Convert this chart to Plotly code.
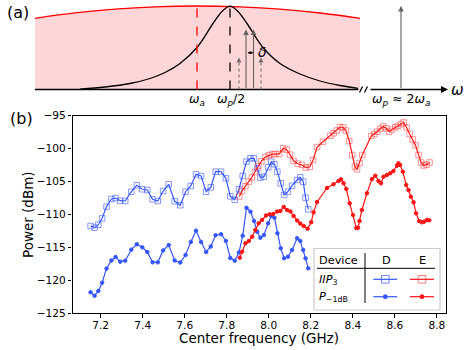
import plotly.graph_objects as go

# ---- panel (b) data ----
freq_d = [7.152, 7.171, 7.189, 7.207, 7.228, 7.251, 7.271, 7.293, 7.317, 7.346,
          7.372, 7.398, 7.422, 7.447, 7.472, 7.497, 7.524, 7.552, 7.579, 7.604,
          7.629, 7.654, 7.678, 7.702, 7.724, 7.747, 7.773, 7.796, 7.817, 7.838,
          7.858, 7.876, 7.894, 7.913, 7.930, 7.945, 7.960, 7.977, 7.997, 8.012,
          8.027, 8.041, 8.057, 8.073, 8.091, 8.111, 8.135, 8.150, 8.164, 8.175, 8.188]
iip3_d = [-111.75, -112.0, -111.55, -110.58, -108.8, -107.65, -107.5, -107.9, -107.95, -106.54,
          -105.57, -106.17, -106.28, -107.69, -107.95, -106.43, -105.41, -108.0, -108.6, -106.54,
          -105.67, -103.9, -104.15, -106.54, -105.87, -103.5, -103.5, -104.5, -107.24, -107.75,
          -106.17, -104.15, -101.98, -101.47, -101.47, -102.99, -104.41, -104.26, -102.83, -101.98,
          -102.38, -103.5, -105.26, -107.04, -106.54, -105.63, -104.76, -104.35, -105.02, -107.45, -109.21]
p1db_d = [-121.81, -122.33, -121.61, -120.35, -118.2, -116.98, -116.45, -117.16, -117.01, -115.34,
          -114.51, -114.98, -115.69, -117.26, -117.26, -115.46, -114.63, -116.98, -117.29, -116.15,
          -114.17, -112.46, -114.17, -115.69, -114.86, -113.14, -113.0, -114.02, -116.6, -117.01,
          -115.77, -113.22, -108.97, -109.57, -110.99, -112.61, -113.52, -113.11, -111.34, -110.23,
          -110.49, -112.85, -115.13, -116.65, -116.41, -115.39, -113.61, -114.02, -115.39, -116.65, -118.17]

freq_e_iip3 = [7.860, 7.873, 7.889, 7.905, 7.919, 7.934, 7.950, 7.965, 7.984, 8.000,
               8.016, 8.031, 8.050, 8.069, 8.085, 8.101, 8.118, 8.138, 8.158, 8.176,
               8.195, 8.211, 8.230, 8.258, 8.293, 8.308, 8.324, 8.339, 8.354, 8.367,
               8.383, 8.397, 8.410, 8.420, 8.432, 8.445, 8.488, 8.502, 8.516, 8.530,
               8.545, 8.559, 8.573, 8.587, 8.602, 8.616, 8.630, 8.642, 8.656, 8.670,
               8.685, 8.699, 8.713, 8.725, 8.737, 8.751, 8.765]
iip3_e = [-107.27, -106.43, -105.70, -105.02, -104.38, -103.55, -102.64, -101.91, -101.27, -101.01,
          -100.84, -100.84, -100.81, -99.95, -100.16, -100.92, -101.85, -102.29, -102.48, -102.86,
          -102.79, -101.73, -99.75, -98.95, -98.04, -97.67, -97.25, -96.72, -96.79, -97.25,
          -98.84, -100.97, -102.74, -103.14, -102.18, -100.97, -98.08, -97.78, -97.43, -96.97,
          -96.64, -96.91, -97.43, -97.10, -96.76, -96.56, -96.26, -96.03, -96.79, -97.78,
          -98.61, -99.52, -100.97, -102.10, -102.56, -102.44, -102.10]

freq_e_p1db = [7.862, 7.873, 7.889, 7.905, 7.921, 7.936, 7.952, 7.968, 7.987, 8.004,
               8.021, 8.040, 8.055, 8.071, 8.087, 8.103, 8.118, 8.135, 8.150, 8.166,
               8.185, 8.202, 8.213, 8.230, 8.277, 8.308, 8.332, 8.344, 8.356, 8.369,
               8.385, 8.401, 8.417, 8.425, 8.432, 8.443, 8.467, 8.491, 8.507, 8.522,
               8.534, 8.546, 8.562, 8.578, 8.593, 8.610, 8.617, 8.625, 8.638, 8.654,
               8.665, 8.676, 8.689, 8.701, 8.716, 8.728, 8.739, 8.752, 8.764]
p1db_e = [-116.56, -115.65, -114.37, -114.02, -113.37, -112.35, -111.33, -110.83, -110.15, -109.97,
          -109.92, -109.54, -109.47, -108.86, -109.32, -109.54, -110.23, -110.91, -111.37, -111.75,
          -112.15, -111.18, -109.67, -108.10, -105.98, -105.41, -104.91, -104.66, -105.26, -106.13,
          -108.30, -110.08, -112.05, -112.00, -110.99, -109.32, -106.78, -104.61, -104.11, -104.91,
          -105.26, -104.26, -104.00, -103.74, -103.40, -102.59, -102.23, -102.48, -103.50, -105.52,
          -106.28, -107.30, -108.15, -109.82, -110.99, -111.18, -111.09, -110.83, -110.88]

x_ticks = [7.2, 7.4, 7.6, 7.8, 8.0, 8.2, 8.4, 8.6, 8.8]
y_ticks = [-125, -120, -115, -110, -105, -100, -95]

# ---- panel (a) schematic, in its own drawing units ----
gain_x = [35, 75, 115, 155, 197, 240, 280, 320, 360]
gain_h = [71.2, 76.6, 80.4, 82.7, 83.5, 82.6, 80.3, 76.5, 71.2]
res_x = [80, 105, 130, 150, 165, 180, 197, 213, 222, 230, 238, 247, 263, 280, 300, 320, 340, 358]
res_h = [0.3, 2.5, 6, 11, 17, 26, 42, 66, 78, 83.3, 78, 66, 42, 26, 15.5, 8.5, 4, 1.2]

W, H = 467, 350
BLUE = "#3556ff"
RED = "#ff1414"


def px(x):
    return x / W


def py(y):
    return 1 - y / H


fig = go.Figure()

# 数据曲线
series = [
    (freq_d, iip3_d, BLUE, "square-open", 5.5, "rgba(53,86,255,0.6)"),
    (freq_d, p1db_d, BLUE, "circle", 3.5, BLUE),
    (freq_e_iip3, iip3_e, RED, "square-open", 5.5, "rgba(255,40,40,0.5)"),
    (freq_e_p1db, p1db_e, RED, "circle", 3.5, RED),
]
for xs, ys, col, sym, size, mcol in series:
    fig.add_trace(go.Scatter(
        x=xs, y=ys, mode="lines+markers",
        line=dict(color=col, width=1.2),
        marker=dict(symbol=sym, size=size, color=mcol, line=dict(width=1, color=mcol)),
        hoverinfo="skip"
    ))

# 示意图 (a)
fig.add_trace(go.Scatter(
    x=gain_x, y=gain_h, mode="lines", xaxis="x2", yaxis="y2",
    line=dict(color="red", width=1.3, shape="spline"),
    fill="tozeroy", fillcolor="#ffd6d8", hoverinfo="skip"
))
fig.add_trace(go.Scatter(
    x=res_x, y=res_h, mode="lines", xaxis="x2", yaxis="y2",
    line=dict(color="black", width=1.3, shape="spline"), hoverinfo="skip"
))

shapes = []
annotations = []

# baseline with break
shapes.append(dict(type="line", xref="x2", yref="y2", x0=35, x1=358.5, y0=0, y1=0,
                   line=dict(color="black", width=1.6)))
for bx in [359.5, 364.5]:
    shapes.append(dict(type="line", xref="x2", yref="y2", x0=bx, x1=bx + 3, y0=-3, y1=3,
                       line=dict(color="black", width=1.2)))
annotations.append(dict(x=448, y=0, ax=369, ay=0, xref="x2", yref="y2", axref="x2", ayref="y2",
                        showarrow=True, arrowhead=2, arrowsize=1, arrowwidth=1.4,
                        arrowcolor="black", text=""))
# dashed markers
shapes.append(dict(type="line", xref="x2", yref="y2", x0=197, x1=197, y0=0, y1=81,
                   line=dict(color="red", width=1.3, dash="dash")))
shapes.append(dict(type="line", xref="x2", yref="y2", x0=230, x1=230, y0=0, y1=83.3,
                   line=dict(color="black", width=1.3, dash="dash")))

# tones
for tx, th in [(246, 60), (253.5, 60), (401, 83.5)]:
    annotations.append(dict(x=tx, y=th, ax=tx, ay=0, xref="x2", yref="y2", axref="x2", ayref="y2",
                            showarrow=True, arrowhead=2, arrowsize=1, arrowwidth=1.1,
                            arrowcolor="#606060", text=""))
for tx in [239, 261]:
    shapes.append(dict(type="line", xref="x2", yref="y2", x0=tx, x1=tx, y0=0, y1=27,
                       line=dict(color="#707070", width=1.1, dash="dot")))
    annotations.append(dict(x=tx, y=32, ax=tx, ay=28, xref="x2", yref="y2", axref="x2", ayref="y2",
                            showarrow=True, arrowhead=2, arrowsize=1, arrowwidth=1,
                            arrowcolor="#707070", text=""))
annotations.append(dict(x=253.5, y=36.8, ax=246, ay=36.8, xref="x2", yref="y2", axref="x2", ayref="y2",
                        showarrow=True, arrowhead=2, arrowside="end+start", arrowsize=0.6,
                        arrowwidth=1, arrowcolor="black", text=""))

sch_font = dict(family="DejaVu Sans", size=12.5, color="black")
for tx, txt in [(197, "<i>ω</i><sub><i>a</i></sub>"),
                (231, "<i>ω</i><sub><i>p</i></sub>/2"),
                (401, "<i>ω</i><sub><i>p</i></sub> ≈ 2<i>ω</i><sub><i>a</i></sub>")]:
    annotations.append(dict(x=tx, y=-10, xref="x2", yref="y2", text=txt, showarrow=False,
                            font=sch_font, xanchor="center", yanchor="middle"))
annotations.append(dict(x=262, y=37.5, xref="x2", yref="y2", text="<i>δ</i>", showarrow=False,
                        font=dict(family="DejaVu Sans", size=14, color="black"),
                        xanchor="center", yanchor="middle"))
annotations.append(dict(x=457, y=0, xref="x2", yref="y2", text="<i>ω</i>", showarrow=False,
                        font=dict(family="DejaVu Sans", size=15, color="black"),
                        xanchor="center", yanchor="middle"))

# panel labels and axis titles
big = dict(family="DejaVu Sans", size=16, color="black")
title_font = dict(family="DejaVu Sans", size=13.5, color="black")
for tx, ty, txt, fnt, ang in [(18, 12.5, "(a)", big, 0), (21.5, 118.5, "(b)", big, 0),
                              (27.5, 214.5, "Power (dBm)", title_font, -90),
                              (259, 337.5, "Center frequency (GHz)", title_font, 0)]:
    annotations.append(dict(x=px(tx), y=py(ty), xref="paper", yref="paper", text=txt,
                            showarrow=False, textangle=ang, font=fnt,
                            xanchor="center", yanchor="middle"))

# legend table
shapes.append(dict(type="rect", xref="paper", yref="paper", x0=px(314), x1=px(440), y0=py(310), y1=py(248.5),
                   line=dict(color="#cccccc", width=1.2), fillcolor="white", layer="above"))
shapes.append(dict(type="line", xref="paper", yref="paper", x0=px(317), x1=px(435), y0=py(268.3), y1=py(268.3),
                   line=dict(color="black", width=1), layer="above"))
shapes.append(dict(type="line", xref="paper", yref="paper", x0=px(365), x1=px(365), y0=py(253), y1=py(303),
                   line=dict(color="black", width=1), layer="above"))
leg_font = dict(family="DejaVu Sans", size=11.3, color="black")
for tx, ty, txt, anc in [(317, 260.5, "Device", "left"), (386, 260.5, "D", "center"),
                         (422.5, 260.5, "E", "center"),
                         (317, 279.5, "<i>IIP</i><sub>3</sub>", "left"),
                         (317, 296.5, "<i>P</i><sub>−1dB</sub>", "left")]:
    annotations.append(dict(x=px(tx), y=py(ty), xref="paper", yref="paper", text=txt,
                            showarrow=False, font=leg_font, xanchor=anc, yanchor="middle"))
for cx, col, mcol in [(385.3, BLUE, "rgba(53,86,255,0.7)"), (422, RED, "rgba(255,40,40,0.6)")]:
    for ry, kind in [(279.3, "sq"), (296.7, "dot")]:
        shapes.append(dict(type="line", xref="paper", yref="paper", x0=px(cx - 12), x1=px(cx + 12),
                           y0=py(ry), y1=py(ry), line=dict(color=col, width=1.2), layer="above"))
        if kind == "sq":
            shapes.append(dict(type="rect", xref="paper", yref="paper", x0=px(cx - 3.8), x1=px(cx + 3.8),
                               y0=py(ry + 3.8), y1=py(ry - 3.8), line=dict(color=mcol, width=1),
                               fillcolor="rgba(255,255,255,0)", layer="above"))
        else:
            shapes.append(dict(type="circle", xref="paper", yref="paper", x0=px(cx - 2), x1=px(cx + 2),
                               y0=py(ry + 2), y1=py(ry - 2), line=dict(color=col, width=1),
                               fillcolor=col, layer="above"))

tick_font = dict(family="DejaVu Sans", size=10.6, color="black")
fig.update_layout(
    width=W, height=H,
    margin=dict(l=0, r=0, t=0, b=0, pad=0, autoexpand=False),
    paper_bgcolor="white", plot_bgcolor="rgba(0,0,0,0)",
    showlegend=False,
    shapes=shapes, annotations=annotations,
    xaxis=dict(domain=[px(72.5), px(445.7)], range=[7.066, 8.842],
               tickvals=x_ticks, ticktext=[f"{v:.1f}" for v in x_ticks],
               showline=True, mirror=True, linecolor="black", linewidth=1.2,
               ticks="outside", ticklen=3.5, tickwidth=1, tickcolor="black",
               ticklabelstandoff=-2,
               showgrid=False, zeroline=False, tickfont=tick_font, automargin=False),
    yaxis=dict(domain=[py(313.3), py(115.7)], range=[-125, -95],
               tickvals=y_ticks, ticktext=[str(v).replace("-", "−") for v in y_ticks],
               showline=True, mirror=True, linecolor="black", linewidth=1.2,
               ticks="outside", ticklen=3.5, tickwidth=1, tickcolor="black",
               showgrid=False, zeroline=False, tickfont=tick_font, automargin=False),
    xaxis2=dict(domain=[0, 1], range=[0, W], visible=False, anchor="y2"),
    yaxis2=dict(domain=[0.7, 1], range=[-15.5, 89.5], visible=False, anchor="x2"),
)

# page body has an 8px default margin; drop it so the figure sits at the window corner
fig.write_html("out.html", config={"displayModeBar": False},
               post_script="document.body.style.margin='0';")
